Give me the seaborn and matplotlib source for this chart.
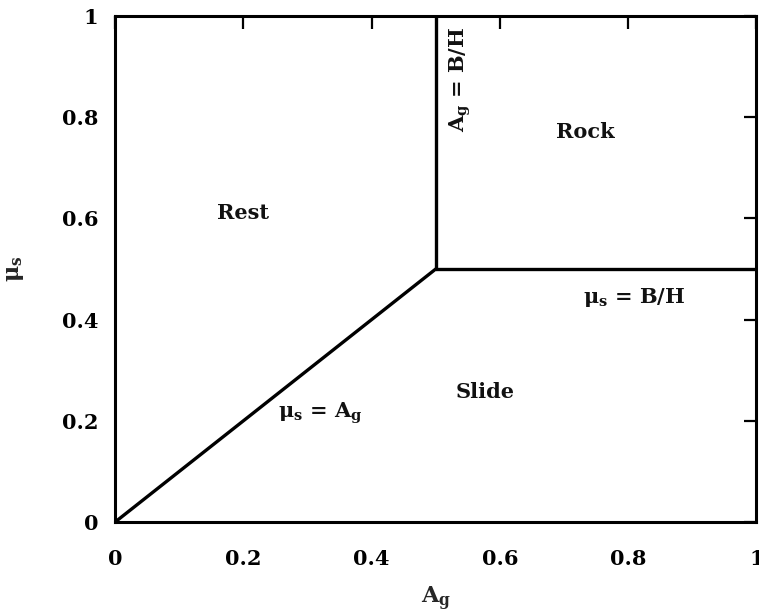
import matplotlib
matplotlib.use("Agg")
import matplotlib.pyplot as plt
import pandas as pd
import seaborn as sns

# boundary lines of the rest / slide / rock regions
slide_x = [0.0, 0.5]
slide_y = [0.0, 0.5]
rock_x = [0.5, 0.5]
rock_y = [0.5, 1.0]
bh_x = [0.5, 1.0]
bh_y = [0.5, 0.5]

ticks = [0, 0.2, 0.4, 0.6, 0.8, 1]
tick_labels = ["0", "0.2", "0.4", "0.6", "0.8", "1"]

# region / boundary labels (text, x, y, rotation)
labels = [
    ("Rest", 0.20, 0.61, 0),
    ("Rock", 0.733, 0.77, 0),
    ("Slide", 0.577, 0.257, 0),
    (r"μ$_{\mathregular{s}}$ = A$_{\mathregular{g}}$", 0.32, 0.215, 0),
    (r"μ$_{\mathregular{s}}$ = B/H", 0.81, 0.443, 0),
    (r"A$_{\mathregular{g}}$ = B/H", 0.539, 0.875, 90),
]

sns.set_style("white")
plt.rcParams["font.family"] = ["DejaVu Serif"]
plt.rcParams["mathtext.default"] = "regular"

fig = plt.figure(figsize=(7.59, 6.15), dpi=100)
ax = fig.add_axes([0.1515, 0.151, 0.845, 0.823])

segments = pd.concat([
    pd.DataFrame({"x": slide_x, "y": slide_y, "seg": "slide"}),
    pd.DataFrame({"x": rock_x, "y": rock_y, "seg": "rock"}),
    pd.DataFrame({"x": bh_x, "y": bh_y, "seg": "bh"}),
])
sns.lineplot(data=segments, x="x", y="y", units="seg", estimator=None,
             sort=False, color="black", linewidth=2.4, ax=ax)

for text, x, y, rot in labels:
    ax.text(x, y, text, ha="center", va="center", rotation=rot,
            fontsize=15, fontweight="bold", color="#111111")

ax.set_xlim(0, 1)
ax.set_ylim(0, 1)
ax.set_xticks(ticks)
ax.set_yticks(ticks)
ax.set_xticklabels(tick_labels, fontsize=15, fontweight="bold")
ax.set_yticklabels(tick_labels, fontsize=15, fontweight="bold")
ax.tick_params(direction="in", length=9, width=1.6, top=True, right=True,
               colors="black")
ax.tick_params(axis="x", pad=19)
ax.tick_params(axis="y", pad=12)
ax.set_xlabel(r"A$_{\mathregular{g}}$", fontsize=16, fontweight="bold", labelpad=12)
ax.set_ylabel(r"μ$_{\mathregular{s}}$", fontsize=16, fontweight="bold", labelpad=26)
for spine in ax.spines.values():
    spine.set_linewidth(2.2)
    spine.set_color("black")

fig.savefig("out.png", dpi=100)
